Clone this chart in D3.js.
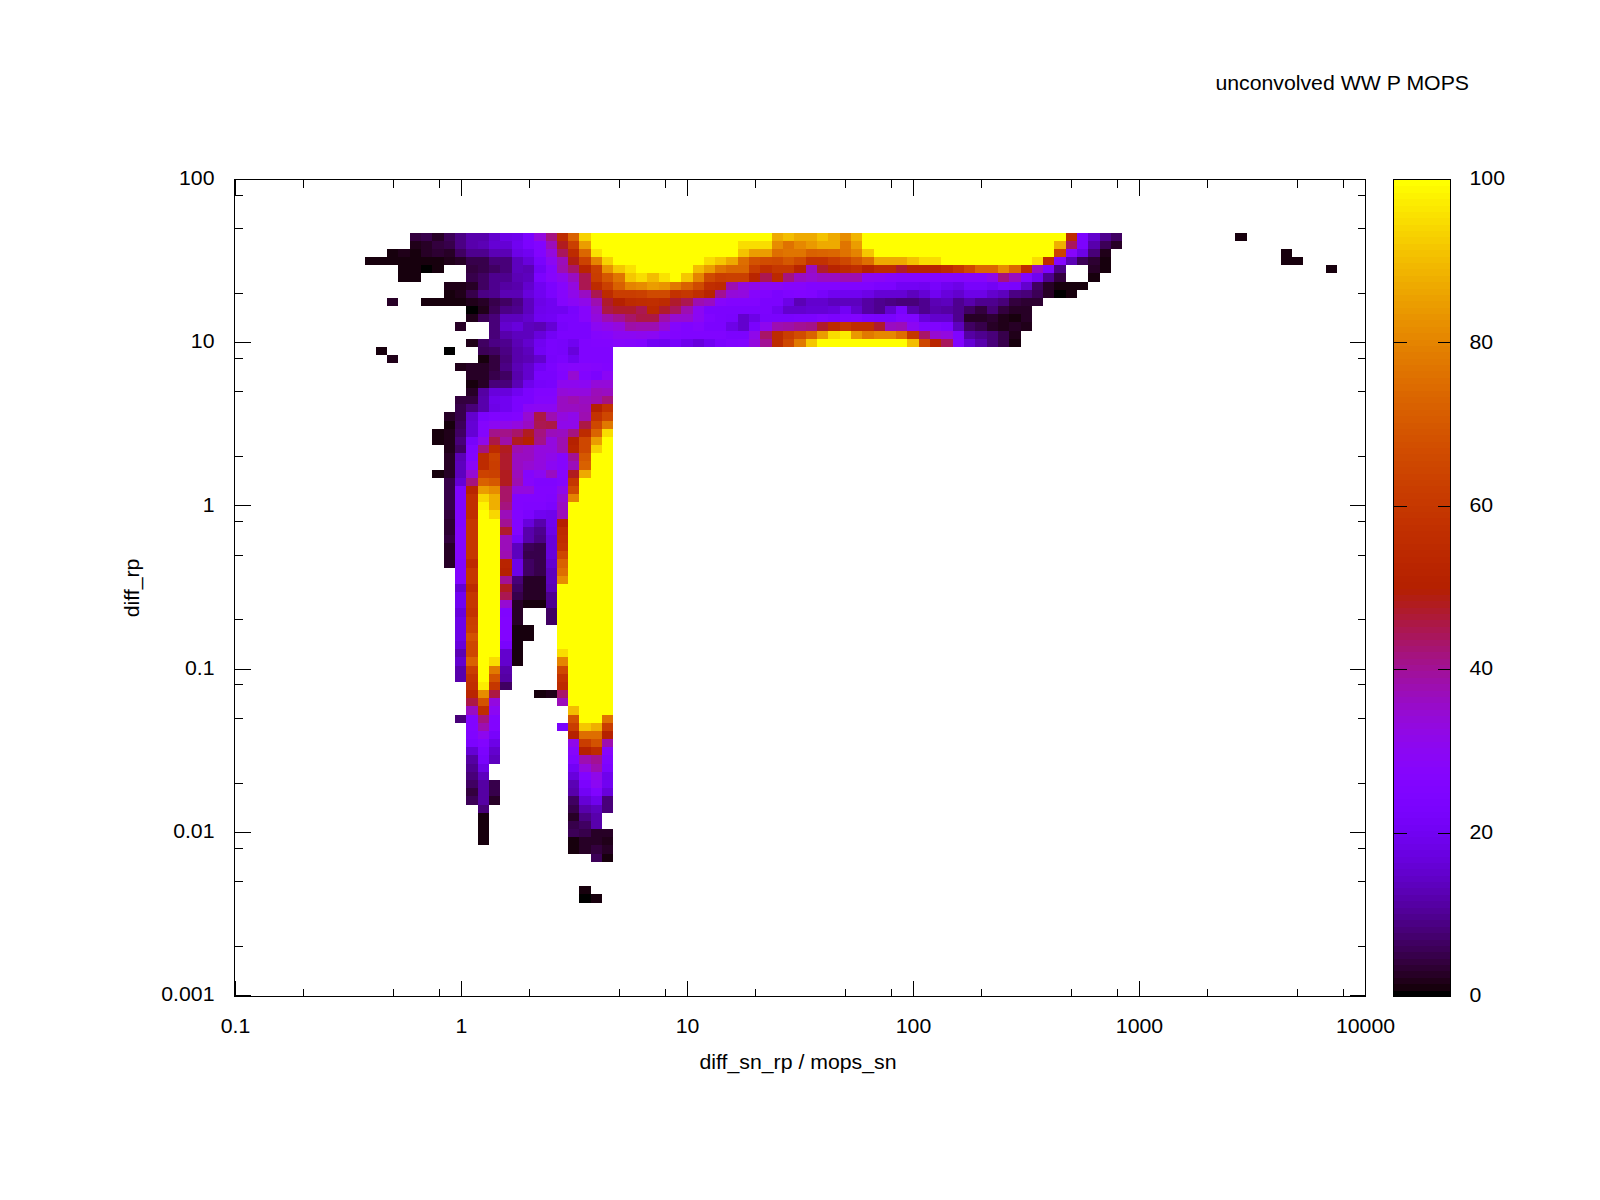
<!DOCTYPE html>
<html>
<head>
<meta charset="utf-8">
<script src="https://cdn.jsdelivr.net/npm/d3@7"></script>
<style>
body { margin: 0; background: #fff; }
text { font-family: "Liberation Sans", sans-serif; font-size: 19.5px; fill: #000; }
</style>
</head>
<body>
<div id="chart"></div>
<script>
// tick values and labels
var xDecades = [0.1, 1, 10, 100, 1000, 10000];
var xLabels = ["0.1", "1", "10", "100", "1000", "10000"];
var yDecades = [0.001, 0.01, 0.1, 1, 10, 100];
var yLabels = ["0.001", "0.01", "0.1", "1", "10", "100"];
var cbTicks = [0, 20, 40, 60, 80, 100];
var minorSteps = [2, 5, 8];

// histogram cells, 20 bins per decade on both axes
var _ = null;
var firstRow = 7;
var firstCol = [16, 16, 14, 12, 15, 15, 19, 19, 14, 21, 21, 20, 23, 21, 13, 14, 20, 21, 21, 21, 20, 20, 19, 19, 18, 18, 19, 19, 19, 18, 19, 19, 19, 19, 19, 19, 19, 19, 19, 19, 19, 20, 20, 20, 20, 20, 20, 20, 20, 20, 20, 20, 20, 20, 20, 21, 21, 21, 21, 20, 21, 21, 21, 21, 21, 21, 21, 21, 21, 21, 22, 22, 22, 22, 22, 30, 32, 0, 0, 0, 31, 31];
var cellRows = [
  [4,5,3,6,9,12,12,15,18,19,24,33,42,55,72,93,100,100,100,100,100,100,100,100,100,100,100,100,100,100,100,100,87,90,87,87,91,87,82,89,100,100,100,100,100,100,100,100,100,100,100,100,100,100,100,100,100,100,55,24,15,10,7],
  [2,2.5,4,5,9,12,13,16,16,20,24,26,37,48,63,85,100,100,100,100,100,100,100,100,100,100,100,100,100,95,95,95,82,76,81,84,87,87,77,85,100,100,100,100,100,100,100,100,100,100,100,100,100,100,100,100,100,88,44,24,12,6,3],
  [1.5,2,1.5,3,3.5,3,7,10,10,13,13,18,20,26,33,44,55,74,96,100,100,100,100,100,100,100,100,100,100,100,100,91,85,85,75,77,77,72,73,74,76,80,92,100,100,100,100,100,100,100,100,100,100,100,100,100,100,100,100,64,28,18,8,2],
  [1,1,1.5,1.5,1.2,1,1.5,2,3,5,5,8,8,14,17,23,30,37,49,64,80,93,100,100,100,100,100,100,100,100,95,92,87,75,68,67,66,70,66,58,58,62,65,70,75,87,87,87,91,95,95,100,100,100,100,100,100,100,100,95,55,27,13,6,3.5,1.5],
  [1.5,1.5,0.5,1.5,_,_,4,5,7,8,14,13,21,27,38,43,53,63,83,92,96,100,100,100,100,100,90,85,77,74,74,62,57,60,60,52,36,47,52,54,57,50,55,55,47,52,52,52,55,60,66,74,74,82,74,56,36,24,9,_,_,2.5,1.5],
  [1.5,1.5,_,_,_,_,5,7,10,10,13,14,24,28,31,36,45,62,70,77,92,95,90,96,100,92,80,66,62,63,63,53,45,54,42,36,35,36,36,38,38,30,29,28,27,27,27,27,28,27,28,28,32,42,36,26,20,10,4,_,_,0.8],
  [2,2,3,7,10,11,12,15,20,24,28,33,45,55,63,72,80,82,85,83,78,72,66,57,55,38,33,32,30,29,28,28,26,26,26,25,25,25,24,24,21,21,20,22,20,18,22,22,21,24,23,15,7,2.5,1.5,1.5,1.5],
  [1.5,2,5,9,10,13,13,17,20,24,28,32,36,45,55,62,62,63,66,66,58,60,57,52,40,34,33,28,26,24,25,26,25,22,20,20,20,18,16,16,16,14,16,20,17,15,18,18,15,14,9,8,6,2.5,0.3,1.5],
  [3,_,_,0.8,0.8,0.8,1.5,2,3,5,7,9,14,18,20,27,29,32,38,47,50,55,56,57,55,47,45,38,36,28,26,26,26,24,24,18,13,15,15,14,14,14,11,10,9,8,8,10,13,14,10,12,10,10,8,4,3.5,3.5],
  [0.5,2,6,9,10,14,19,20,20,23,28,35,46,47,47,45,54,47,44,38,30,24,24,24,24,24,24,20,15,15,16,16,17,21,15,11,10,15,23,12,10,12,11,10,7,4,8,4,2.5,3],
  [2,6,8,14,14,15,20,21,24,24,28,33,38,40,43,46,46,39,35,35,30,25,24,23,15,18,23,23,23,24,24,25,24,25,26,24,23,23,26,25,17,15,15,10,3,2.5,3.5,1.8,1.5,3],
  [2.5,_,_,8,15,17,14,13,16,22,24,24,30,32,33,39,38,38,34,27,25,27,24,24,18,15,23,31,38,39,40,41,47,55,60,56,56,47,36,37,30,25,25,24,14,7,5,2.5,1.8,3,2],
  [8,12,14,14,17,21,24,24,24,27,28,30,30,31,30,27,26,25,25,25,25,24,24,32,43,55,62,67,73,85,95,97,84,78,81,81,75,60,43,35,33,25,11,10,8,5,1.7],
  [2,7,9,10,13,15,20,23,22,20,25,26,26,28,27,26,21,20,22,19,17,20,24,25,26,33,40,55,65,78,92,100,100,100,100,100,100,100,100,90,65,53,44,26,16,12,8,5,1.2],
  [1.5,_,_,_,_,_,0.5,_,_,6,7,9,12,14,21,23,22,17,25,25,25],
  [2,_,_,_,_,_,_,_,1.5,4,8,12,13,15,22,24,20,25,25,25],
  [2,3,2.5,4,9,13,15,21,24,27,28,28,27,26],
  [3,2.5,5,7,12,15,23,23,26,35,26,24,29],
  [1,3,8,8,13,19,22,23,31,31,30,34,34],
  [3,11,17,17,20,24,26,26,34,33,33,37,36],
  [4,4,12,19,20,24,24,27,27,36,38,36,38,42],
  [5,8,12,18,20,24,29,30,30,36,36,37,50,58],
  [3,5,15,24,25,25,26,35,46,38,33,32,38,58,65],
  [1.5,6,16,27,30,32,33,36,45,46,32,32,46,65,78],
  [1,2,7,16,27,41,41,43,48,42,37,36,42,55,73,95],
  [1,2,8,22,32,46,39,48,50,41,33,38,50,65,85,100],
  [2,7,25,42,55,48,38,36,33,33,38,52,65,93,100],
  [2.5,13,26,55,63,47,36,36,33,32,28,40,70,100,100],
  [2.5,14,29,55,62,47,36,35,33,30,28,37,72,100,100],
  [1.2,3,14,35,64,63,48,37,27,30,36,28,48,87,100,100],
  [5,16,42,72,70,48,38,28,25,25,27,60,100,100,100],
  [5,25,52,85,82,43,33,33,26,26,32,66,100,100,100],
  [5,25,57,94,88,43,26,26,26,25,35,80,100,100,100],
  [5,25,57,98,88,42,26,25,25,24,36,100,100,100,100],
  [4,26,57,100,94,37,26,24,20,19,37,100,100,100,100],
  [3.5,26,60,100,100,40,26,17,12,19,50,100,100,100,100],
  [3.5,27,60,100,100,47,26,12,10,18,55,100,100,100,100],
  [4,27,60,100,100,37,22,12,9,17,57,100,100,100,100],
  [2.5,27,60,100,100,37,14,6,5,17,58,100,100,100,100],
  [2.5,27,60,100,100,38,14,5,5,17,65,100,100,100,100],
  [3,26,55,100,100,52,18,7,5,15,72,100,100,100,100],
  [26,60,100,100,50,18,7,5,14,75,100,100,100,100],
  [26,60,100,100,40,8,3,3,14,82,100,100,100,100],
  [16,55,100,100,48,7,3,3,13,100,100,100,100,100],
  [20,60,100,100,45,5,3,3,10,100,100,100,100,100],
  [20,60,100,100,35,3,1.5,1.5,10,100,100,100,100,100],
  [17,58,100,100,25,2.5,_,_,7,100,100,100,100,100],
  [18,62,100,100,26,2.5,_,_,7,100,100,100,100,100],
  [18,63,100,100,26,1.5,1.5,_,_,100,100,100,100,100],
  [18,68,100,100,26,1.5,1.5,_,_,100,100,100,100,100],
  [17,65,100,100,23,1.5,_,_,_,100,100,100,100,100],
  [13,65,100,100,15,1.5,_,_,_,95,100,100,100,100],
  [15,72,100,95,15,1.5,_,_,_,80,100,100,100,100],
  [12,62,100,78,12,_,_,_,_,65,100,100,100,100],
  [12,58,100,68,11,_,_,_,_,58,100,100,100,100],
  [57,97,60,7,_,_,_,_,55,100,100,100,100],
  [53,82,46,_,_,_,1.5,2,43,100,100,100,100],
  [46,68,33,_,_,_,_,_,37,100,100,100,100],
  [36,56,30,_,_,_,_,_,_,90,100,100,100],
  [8,26,42,26,_,_,_,_,_,_,68,100,100,76],
  [26,38,26,_,_,_,_,_,23,62,92,88,62],
  [25,31,22,_,_,_,_,_,_,50,75,75,50],
  [24,26,18,_,_,_,_,_,_,32,62,68,38],
  [16,24,15,_,_,_,_,_,_,28,50,55,28],
  [11,22,14,_,_,_,_,_,_,25,38,40,25],
  [10,18,_,_,_,_,_,_,_,21,33,38,24],
  [8,14,_,_,_,_,_,_,_,17,26,32,19],
  [7,11,5,_,_,_,_,_,_,13,24,30,20],
  [4,11,5,_,_,_,_,_,_,12,21,25,17],
  [6,11,3,_,_,_,_,_,_,7,16,19,8],
  [8,_,_,_,_,_,_,_,5,12,14,8],
  [1.5,_,_,_,_,_,_,_,3,9,12],
  [1.5,_,_,_,_,_,_,_,5,7,12],
  [1.5,_,_,_,_,_,_,_,6,5,3,2.5],
  [1.5,_,_,_,_,_,_,_,1.5,3,2.5,2],
  [1,2.5,4,3],
  [6,1.5],
  [],
  [],
  [],
  [1.5],
  [0.5,1.5]
];

// the few stray cells far out on the right
var strayCol = [89, 93, 93, 94, 97];
var strayRow = [7, 9, 10, 10, 11];
var strayVal = [1.5, 1, 1, 1, 0.8];

var svgWidth = 1600;
var svgHeight = 1200;

var plot = { left: 234.5, right: 1365.5, top: 179.5, bottom: 996.5 };
var bar = { left: 1393.5, right: 1450.5 };

var svg = d3.select("#chart")
    .append("svg")
    .attr("width", svgWidth)
    .attr("height", svgHeight);

var xScale = d3.scaleLog().domain([0.1, 10000]).range([plot.left, plot.right]);
var yScale = d3.scaleLog().domain([0.001, 100]).range([plot.bottom, plot.top]);
var cbScale = d3.scaleLinear().domain([0, 100]).range([plot.bottom, plot.top]);

// ticks start one pixel inside the border at the low end, as gnuplot draws them
var xTickScale = d3.scaleLog().domain([0.1, 10000]).range([plot.left + 1, plot.right]);
var yTickScale = d3.scaleLog().domain([0.001, 100]).range([plot.bottom - 1, plot.top]);

// gnuplot default palette (rgbformulae 7,5,15), 128 steps
var nColors = 128;
var palette = d3.range(nColors).map(function(k) {
    var t = k / (nColors - 1);
    var b = Math.max(0, Math.sin(2 * Math.PI * t));
    return d3.rgb(255 * Math.sqrt(t), 255 * t * t * t, 255 * b).formatHex();
});
var color = d3.scaleQuantize().domain([0, 100]).range(palette);

// flatten the rows into cells
var cells = [];
cellRows.forEach(function(vals, r) {
    vals.forEach(function(v, c) {
        if (v !== null) cells.push({ col: firstCol[r] + c, row: firstRow + r, value: v });
    });
});
strayVal.forEach(function(v, k) {
    cells.push({ col: strayCol[k], row: strayRow[k], value: v });
});

// bin edges sit half a bin either side of the grid point
function binX(i) { return xScale(0.1 * Math.pow(10, i / 20)); }
function binY(j) { return yScale(100 * Math.pow(10, -j / 20)); }

svg.append("g")
    .attr("shape-rendering", "crispEdges")
    .selectAll("rect")
    .data(cells)
    .join("rect")
    .attr("x", function(d) { return binX(d.col - 0.5); })
    .attr("y", function(d) { return binY(d.row - 0.5); })
    .attr("width", function(d) { return binX(d.col + 0.5) - binX(d.col - 0.5); })
    .attr("height", function(d) { return binY(d.row + 0.5) - binY(d.row - 0.5); })
    .attr("fill", function(d) { return color(d.value); });

// minor ticks at 2, 5, 8 of each decade
function minors(decades) {
    var out = [];
    decades.slice(0, -1).forEach(function(d) {
        minorSteps.forEach(function(m) { out.push(d * m); });
    });
    return out;
}

function addAxis(axis, x, y, labels) {
    var g = svg.append("g")
        .attr("transform", "translate(" + x + "," + y + ")")
        .attr("shape-rendering", "crispEdges")
        .call(axis.offset(0));
    g.select(".domain").remove();
    g.selectAll("line").attr("stroke", "#000");
    g.selectAll("text").attr("fill", "#000");
    if (!labels) g.selectAll("text").remove();
    return g;
}

function labelFrom(ticks, labels) {
    return function(d) { return labels[ticks.indexOf(d)]; };
}

// bottom and top
var xMajor = addAxis(d3.axisBottom(xTickScale).tickValues(xDecades).tickSizeInner(-16).tickSizeOuter(0)
    .tickFormat(labelFrom(xDecades, xLabels)), 0, plot.bottom, true);
xMajor.selectAll("text").attr("y", 23).attr("dy", "0.69em");
addAxis(d3.axisBottom(xTickScale).tickValues(minors(xDecades)).tickSizeInner(-8).tickSizeOuter(0), 0, plot.bottom, false);
addAxis(d3.axisTop(xTickScale).tickValues(xDecades).tickSizeInner(-16).tickSizeOuter(0), 0, plot.top, false);
addAxis(d3.axisTop(xTickScale).tickValues(minors(xDecades)).tickSizeInner(-8).tickSizeOuter(0), 0, plot.top, false);

// left and right
var yMajor = addAxis(d3.axisLeft(yTickScale).tickValues(yDecades).tickSizeInner(-16).tickSizeOuter(0)
    .tickFormat(labelFrom(yDecades, yLabels)), plot.left, 0, true);
yMajor.selectAll("text").attr("x", -20).attr("dy", "0.29em");
addAxis(d3.axisLeft(yTickScale).tickValues(minors(yDecades)).tickSizeInner(-8).tickSizeOuter(0), plot.left, 0, false);
addAxis(d3.axisRight(yTickScale).tickValues(yDecades).tickSizeInner(-16).tickSizeOuter(0), plot.right, 0, false);
addAxis(d3.axisRight(yTickScale).tickValues(minors(yDecades)).tickSizeInner(-8).tickSizeOuter(0), plot.right, 0, false);

// plot border
svg.append("rect")
    .attr("x", plot.left)
    .attr("y", plot.top)
    .attr("width", plot.right - plot.left)
    .attr("height", plot.bottom - plot.top)
    .attr("fill", "none")
    .attr("stroke", "#000")
    .attr("shape-rendering", "crispEdges");

// colour bar
var bandH = (plot.bottom - plot.top) / nColors;
svg.append("g")
    .attr("shape-rendering", "crispEdges")
    .selectAll("rect")
    .data(palette)
    .join("rect")
    .attr("x", bar.left)
    .attr("width", bar.right - bar.left)
    .attr("y", function(d, k) { return plot.bottom - (k + 1) * bandH; })
    .attr("height", bandH + 0.5)
    .attr("fill", function(d) { return d; });

svg.append("rect")
    .attr("x", bar.left)
    .attr("y", plot.top)
    .attr("width", bar.right - bar.left)
    .attr("height", plot.bottom - plot.top)
    .attr("fill", "none")
    .attr("stroke", "#000")
    .attr("shape-rendering", "crispEdges");

var cbRight = addAxis(d3.axisRight(cbScale).tickValues(cbTicks).tickSizeInner(-13).tickSizeOuter(0)
    .tickFormat(function(d) { return d; }), bar.right, 0, true);
cbRight.selectAll("text").attr("x", 19).attr("dy", "0.29em");
addAxis(d3.axisLeft(cbScale).tickValues(cbTicks).tickSizeInner(-13).tickSizeOuter(0), bar.left, 0, false);

// title and axis labels
svg.append("text")
    .attr("x", 1469)
    .attr("y", 90)
    .attr("text-anchor", "end")
    .text("unconvolved WW P MOPS");

svg.append("text")
    .attr("x", 798)
    .attr("y", 1068.5)
    .attr("text-anchor", "middle")
    .text("diff_sn_rp / mops_sn");

svg.append("text")
    .attr("transform", "translate(139, 588) rotate(-90)")
    .attr("text-anchor", "middle")
    .text("diff_rp");

// the reference font is hinted wider than Liberation's natural advances
svg.selectAll("text").each(function() {
    var w = this.getComputedTextLength();
    d3.select(this).attr("textLength", w * 1.09).attr("lengthAdjust", "spacingAndGlyphs");
});
</script>
</body>
</html>
